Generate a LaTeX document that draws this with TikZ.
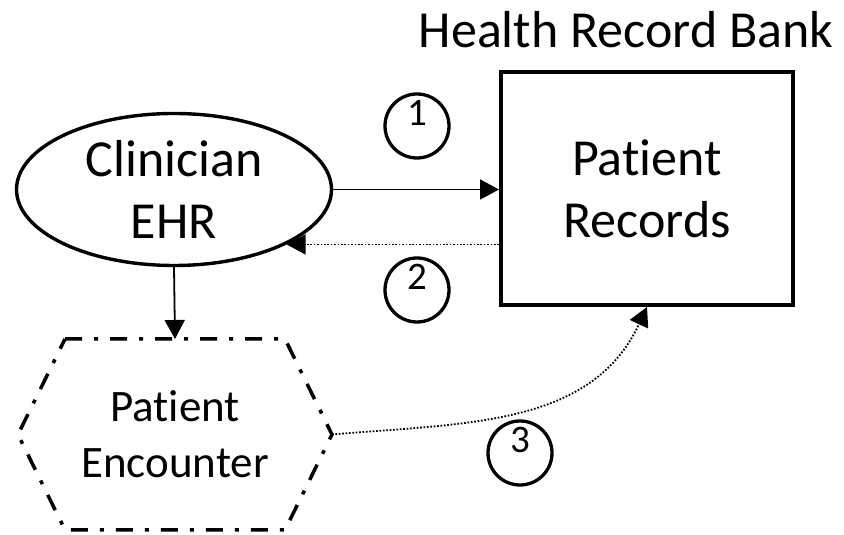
\documentclass[tikz,border=0pt]{standalone}
\usepackage{fontspec}
\setmainfont{Carlito}[Ligatures=NoCommon]
\usetikzlibrary{arrows.meta,shapes.geometric,calc}

\tikzset{
  flow/.style={-{Triangle[length=19pt,width=20pt]}, line width=1.8pt},
  dotflow/.style={flow, dash pattern=on 1.7pt off 1.7pt},
  numcirc/.style={circle, draw, line width=3.3pt, minimum size=64pt, inner sep=0pt,
                  text height=25pt, text depth=25pt, font=\fontsize{39}{46}\selectfont},
  bigtxt/.style={font=\fontsize{52}{62}\selectfont, align=center},
  enctxt/.style={font=\fontsize{45}{56}\selectfont, align=center},
  hexline/.style={line width=3.5pt, dash pattern=on 17pt off 12pt on 4pt off 12pt},
}

\begin{document}
\begin{tikzpicture}[x=1pt, y=1pt]
\useasboundingbox (0,0) rectangle (844,535);

% --- Health record bank ---
\node[bigtxt, anchor=base] (bank) at (626,487) {Health Record Bank};
\node[draw, line width=4pt, minimum width=292pt, minimum height=233pt,
      inner sep=0pt, bigtxt] (rec) at (647,346.5) {Patient\\Records};

% --- Clinician EHR ---
\node[ellipse, draw, line width=3.4pt, minimum width=315pt, minimum height=152pt,
      inner sep=0pt] (ehr) at (174,345.5) {};
\node[bigtxt] (ehrtxt) at (ehr) {Clinician\\EHR};

% --- Patient encounter (hexagon) ---
\node[minimum width=220pt, minimum height=191pt, inner sep=0pt, outer sep=0pt,
      enctxt] (enc) at (175,100.5) {Patient\\Encounter};
\coordinate (encE) at ($(enc.east)+(47,0)$);
\coordinate (encW) at ($(enc.west)+(-47,0)$);
\draw[hexline] (enc.north west) -- (enc.north east) -- (encE)
  -- (enc.south east) -- (enc.south west) -- (encW) -- cycle;

% --- Flows ---
\draw[flow] (ehr.east) -- (ehr.east -| rec.west);
\draw[dotflow] (rec.west |- ehr.-26) -- (ehr.-26);
\draw[flow] (ehr.south) -- (enc.north);
\draw[dotflow] (encE) to[out=5, in=245] (rec.south);

% --- Step numbers ---
\node[numcirc] (n1) at (417,409) {1};
\node[numcirc] (n2) at (417,245) {2};
\node[numcirc] (n3) at (520,82) {3};

\end{tikzpicture}
\end{document}
